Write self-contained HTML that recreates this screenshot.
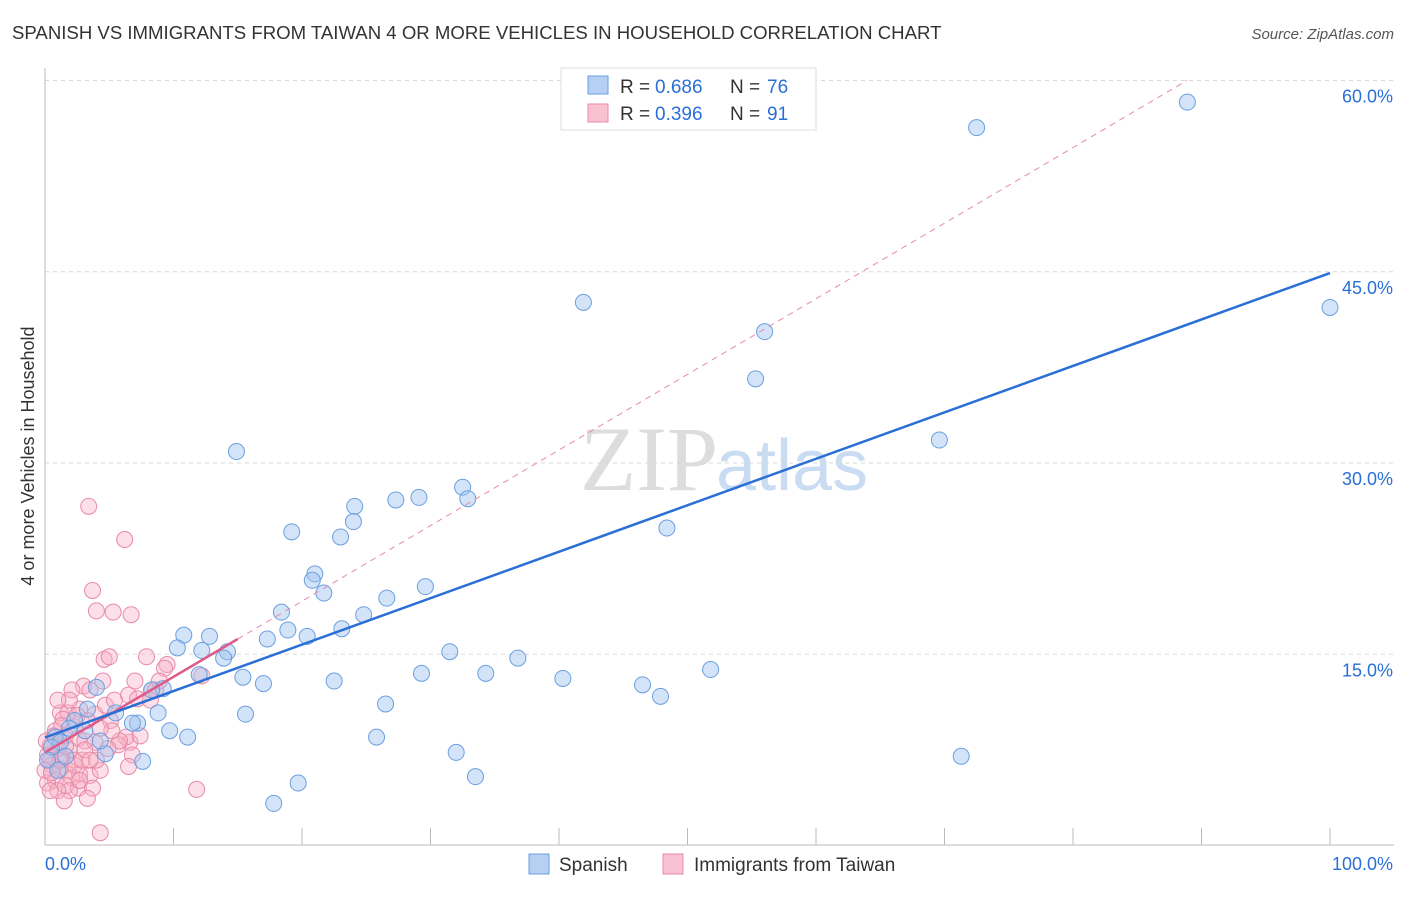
<!DOCTYPE html>
<html><head><meta charset="utf-8"><style>
body{margin:0;background:#fff;font-family:"Liberation Sans",sans-serif}
</style></head><body>
<svg width="1406" height="892" xmlns="http://www.w3.org/2000/svg" font-family="Liberation Sans, sans-serif">
<text x="12" y="39" font-size="18.6" fill="#333">SPANISH VS IMMIGRANTS FROM TAIWAN 4 OR MORE VEHICLES IN HOUSEHOLD CORRELATION CHART</text>
<text x="1394" y="39" font-size="15" fill="#555" font-style="italic" text-anchor="end">Source: ZipAtlas.com</text>
<text x="718" y="490" font-size="92" fill="#ddd" text-anchor="end" font-family="Liberation Serif, serif">ZIP</text>
<text x="716" y="490" font-size="72" fill="#c9dcf2">atlas</text>
<g id="grid"></g>
<g id="axes"></g>
<g id="marks"></g>
<text transform="translate(34,456) rotate(-90)" font-size="18" fill="#333" text-anchor="middle">4 or more Vehicles in Household</text>
<g>
<rect x="561" y="68" width="255" height="62" fill="#fff" stroke="#ddd"/>
<rect x="588" y="76" width="20" height="18" fill="#b5d0f3" stroke="#6a9fe0"/>
<rect x="588" y="104" width="20" height="18" fill="#f9c2d2" stroke="#e889a8"/>
<text x="620" y="93" font-size="19" fill="#333">R =</text>
<text x="655" y="93" font-size="19" fill="#2a6fd6">0.686</text>
<text x="730" y="93" font-size="19" fill="#333">N =</text>
<text x="767" y="93" font-size="19" fill="#2a6fd6">76</text>
<text x="620" y="120" font-size="19" fill="#333">R =</text>
<text x="655" y="120" font-size="19" fill="#2a6fd6">0.396</text>
<text x="730" y="120" font-size="19" fill="#333">N =</text>
<text x="767" y="120" font-size="19" fill="#2a6fd6">91</text>
</g>
<g>
<rect x="529" y="854" width="20" height="20" fill="#b5d0f3" stroke="#6a9fe0"/>
<text x="559" y="871" font-size="19" fill="#333">Spanish</text>
<rect x="663" y="854" width="20" height="20" fill="#f9c2d2" stroke="#e889a8"/>
<text x="694" y="871" font-size="19" fill="#333">Immigrants from Taiwan</text>
</g>
</svg>
<script>
const yTicks=[15,30,45,60];
const yTickLabels=["15.0%","30.0%","45.0%","60.0%"];
const xTickCount=10;
const blueX=[88.9,72.5,41.9,100,56.0,55.3,14.9,69.6,32.5,29.1,27.3,24.1,32.9,24.0,19.2,23.0,48.4,21.0,20.8,29.6,21.7,26.6,18.4,24.8,20.4,23.1,18.9,10.8,12.8,17.3,10.3,14.2,12.2,31.5,13.9,36.8,51.8,29.3,34.3,15.4,40.3,12.0,22.5,17.0,46.5,47.9,9.2,8.3,4.0,26.5,8.8,15.6,5.5,3.3,7.2,6.8,9.7,11.1,25.8,32.0,71.3,4.7,7.6,33.5,19.7,17.8,0.8,1.2,0.5,1.6,2.3,3.1,4.3,1.9,0.2,1.0];
const blueY=[58.3,56.3,42.6,42.2,40.3,36.6,30.9,31.8,28.1,27.3,27.1,26.6,27.2,25.4,24.6,24.2,24.9,21.3,20.8,20.3,19.8,19.4,18.3,18.1,16.4,17.0,16.9,16.5,16.4,16.2,15.5,15.2,15.3,15.2,14.7,14.7,13.8,13.5,13.5,13.2,13.1,13.4,12.9,12.7,12.6,11.7,12.3,12.2,12.4,11.1,10.4,10.3,10.4,10.7,9.6,9.6,9.0,8.5,8.5,7.3,7.0,7.2,6.6,5.4,4.9,3.3,8.5,8.1,7.7,7.0,9.8,9.0,8.2,9.2,6.7,5.9];
const pinkX=[3.4,6.2,3.7,4.0,5.3,6.7,4.6,5.0,7.9,9.5,9.3,12.2,4.5,3.0,2.1,6.5,8.3,7.2,3.5,1.2,1.8,2.7,3.9,1.4,3.3,5.1,2.3,0.8,1.6,2.6,3.1,3.9,0.4,1.0,1.9,0.2,1.3,2.3,0.5,1.2,1.8,2.7,3.5,4.3,0.8,2.1,0.2,1.6,2.6,3.7,3.3,4.3,11.8,6.6,6.3,5.7,6.8,6.5,5.8,7.4,8.6,8.9,8.2,4.7,5.2,1.9,1.0,0.4,1.2,2.3,2.9,1.6,0.7,1.3,2.5,3.1,4.0,4.9,0,0.5,0.1,1.9,2.7,1.0,1.5,3.5,4.3,5.4,7.0,0.4];
const pinkY=[26.6,24.0,20.0,18.4,18.3,18.1,14.6,14.8,14.8,14.2,13.9,13.3,12.9,12.5,12.2,11.8,12.2,11.5,12.2,10.4,10.4,10.7,10.3,9.9,9.8,9.8,9.3,9.0,8.6,8.4,8.2,8.1,7.8,7.6,7.5,7.1,6.9,6.7,6.3,6.0,5.9,5.6,5.5,5.9,5.1,5.3,4.9,4.7,4.5,4.5,3.7,1.0,4.4,8.1,8.5,7.9,7.1,6.2,8.2,8.6,12.2,12.9,11.4,11.0,9.0,11.4,11.4,6.7,6.7,6.3,6.7,7.8,8.6,9.4,10.2,7.5,6.7,7.6,5.9,5.7,8.2,4.3,5.1,4.3,3.5,6.7,9.2,11.4,12.9,4.3];
const blueTrend=[8.47,44.9];
const pinkTrend=[7.3,0.593];
const pinkSolidEnd=15;
const NS="http://www.w3.org/2000/svg";
const X=v=>45+v*12.85, Y=v=>845.5-v*12.75;
function mk(tag,attrs,parent){const e=document.createElementNS(NS,tag);for(const k in attrs)e.setAttribute(k,attrs[k]);document.getElementById(parent).appendChild(e);return e;}
yTicks.forEach((t,i)=>{
  const l=mk('line',{x1:45,x2:1394,y1:Y(t),y2:Y(t),stroke:'#d8d8d8','stroke-dasharray':'4,4'},'grid');
  
  
  const tx=mk('text',{x:1393,y:Y(t)+22,'font-size':18,fill:'#2a6fd6','text-anchor':'end'},'grid');
  tx.textContent=yTickLabels[i];
  
  
});
const ax=mk('line',{x1:45,x2:1394,y1:845,y2:845,stroke:'#bbb'},'axes');


const ay=mk('line',{x1:45,x2:45,y1:68,y2:845,stroke:'#bbb'},'axes');


for(let i=0;i<=xTickCount;i++){
  const t=mk('line',{x1:X(i*10),x2:X(i*10),y1:828,y2:845,stroke:'#bbb'},'axes');
  
  
}
const xl0=mk('text',{x:45,y:870,'font-size':18,fill:'#2a6fd6'},'axes');xl0.textContent='0.0%';


const xl1=mk('text',{x:1393,y:870,'font-size':18,fill:'#2a6fd6','text-anchor':'end'},'axes');xl1.textContent='100.0%';


pinkX.forEach((v,i)=>{
  const c=mk('circle',{cx:X(v),cy:Y(pinkY[i]),r:8,fill:'rgba(248,175,198,0.4)',stroke:'#e889a8','stroke-width':1},'marks');
  
  
});
blueX.forEach((v,i)=>{
  const c=mk('circle',{cx:X(v),cy:Y(blueY[i]),r:8,fill:'rgba(160,196,240,0.45)',stroke:'#6a9fe0','stroke-width':1},'marks');
  
  
});
const pEndX=(60-pinkTrend[0])/pinkTrend[1];
const pd=mk('line',{x1:X(pinkSolidEnd),y1:Y(pinkTrend[0]+pinkTrend[1]*pinkSolidEnd),x2:X(pEndX),y2:Y(60),stroke:'#e889a8','stroke-dasharray':'6,5','stroke-width':1},'marks');


const ps=mk('line',{x1:X(0),y1:Y(pinkTrend[0]),x2:X(pinkSolidEnd),y2:Y(pinkTrend[0]+pinkTrend[1]*pinkSolidEnd),stroke:'#e05a88','stroke-width':2.5},'marks');


const bl=mk('line',{x1:X(0),y1:Y(blueTrend[0]),x2:X(100),y2:Y(blueTrend[1]),stroke:'#2a6fd6','stroke-width':2.5},'marks');


</script>
</body></html>
